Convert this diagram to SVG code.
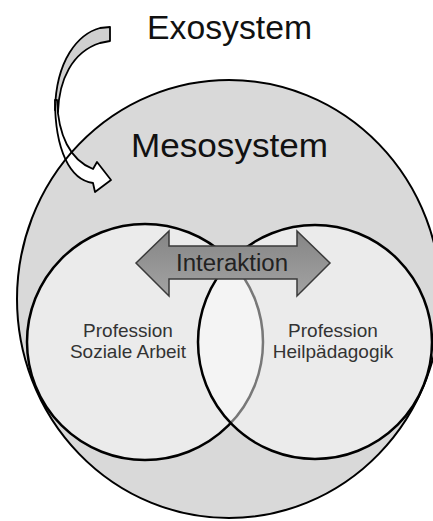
<svg xmlns="http://www.w3.org/2000/svg" width="433" height="521" viewBox="0 0 433 521">
<style>
.lbl{font-family:"Liberation Sans",Arial,sans-serif;}
.big{font-size:33px;fill:#111;}
.inner{font-size:19px;fill:#333;text-anchor:middle;}
.venn{fill:#fff;fill-opacity:0.47;stroke:#000;stroke-width:2.5;}
.carrow{stroke:#000;stroke-width:1.8;stroke-linejoin:round;}
</style>
<defs>
<linearGradient id="g" x1="0" y1="0" x2="0" y2="1">
<stop offset="0" stop-color="#858585"/>
<stop offset="1" stop-color="#a3a3a3"/>
</linearGradient>
</defs>
<rect width="433" height="521" fill="#fff"/>
<g id="mesosystem">
<ellipse cx="229" cy="299" rx="212" ry="219" fill="#d9d9d9"/>
</g>
<g id="connectors">
<path class="carrow" fill="#d0d0d0" d="M110,27 L100,28 C78,34 56,60 55,110 L58,112 C59,80 72,52 100,43 L110,41 Z"/>
<path class="carrow" fill="#fff" d="M57,100 C58,135 70,160 93,169 L97,162 L111,180 L95,192 L93,183 C70,180 55,150 55,100 Z"/>
</g>
<g id="mesosystem-outline">
<ellipse cx="229" cy="299" rx="212" ry="219" fill="none" stroke="#000" stroke-width="2"/>
</g>
<g id="soziale-arbeit">
<circle class="venn" cx="145" cy="342" r="118"/>
</g>
<g id="heilpaedagogik">
<circle class="venn" cx="315" cy="342" r="117"/>
</g>
<g id="interaktion">
<path d="M136,263 L169,231 L169,246 L297,246 L297,231 L330,263 L297,296 L297,279 L169,279 L169,296 Z" fill="url(#g)" stroke="#3a3a3a" stroke-width="1.5" stroke-linejoin="miter"/>
<text class="lbl" x="176" y="271" font-size="23" fill="#222" textLength="112" lengthAdjust="spacingAndGlyphs">Interaktion</text>
</g>
<g id="labels">
<text class="lbl big" x="147" y="39" textLength="165" lengthAdjust="spacingAndGlyphs">Exosystem</text>
<text class="lbl big" x="131" y="157" textLength="197" lengthAdjust="spacingAndGlyphs">Mesosystem</text>
<text class="lbl inner" x="128" y="337">Profession</text>
<text class="lbl inner" x="128" y="358">Soziale Arbeit</text>
<text class="lbl inner" x="333" y="337">Profession</text>
<text class="lbl inner" x="333" y="358">Heilpädagogik</text>
</g>
</svg>
